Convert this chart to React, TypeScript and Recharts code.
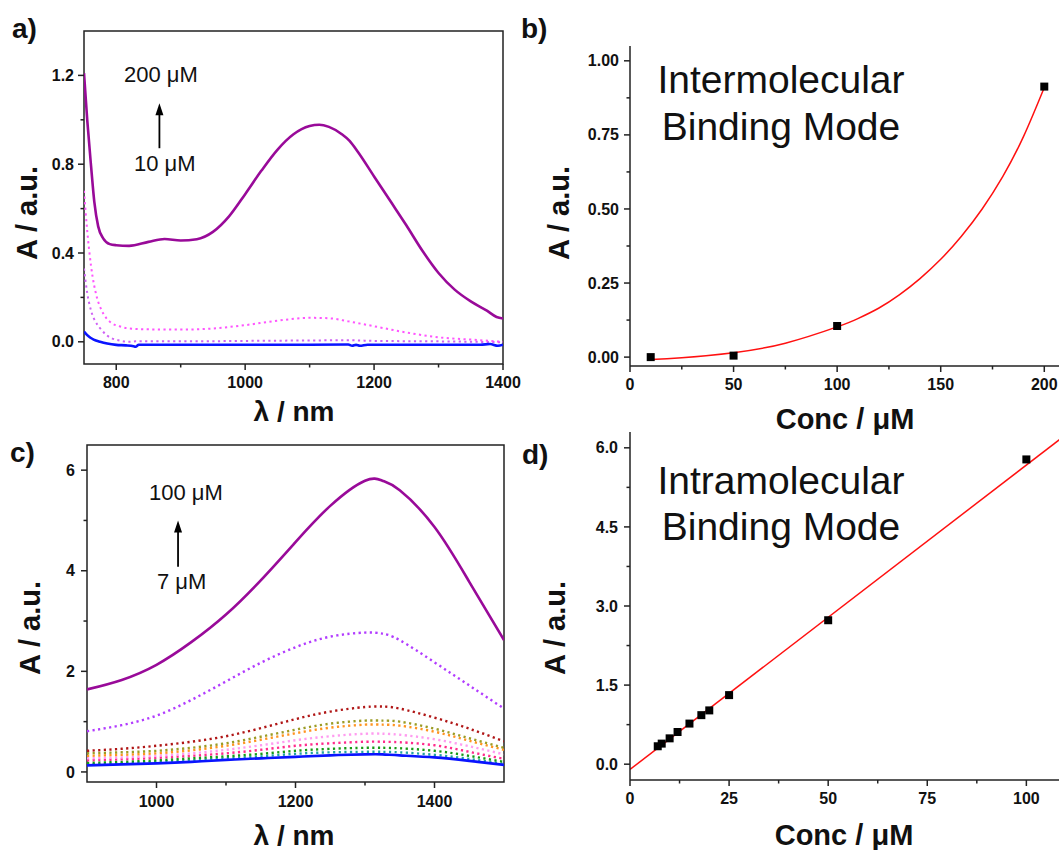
import React from 'react';
import {
  LineChart,
  ComposedChart,
  Line,
  Scatter,
  XAxis,
  YAxis,
  ReferenceArea,
  ReferenceLine,
} from 'recharts';

const FONT = "'Liberation Sans', Arial, Helvetica, sans-serif";
const AX = '#222';
const TXT = '#111';

// ---------- Panel a : spectra, 10 - 200 uM (intermolecular) ----------
const aPurpleX = [750, 755, 761, 766, 772, 780, 790, 800, 820, 850, 875, 900, 925, 950, 975, 1000, 1025, 1050, 1075, 1100, 1115, 1130, 1150, 1162, 1175, 1200, 1225, 1250, 1275, 1300, 1325, 1350, 1375, 1390, 1400];
const aPurpleY = [1.21, 1.0, 0.79, 0.63, 0.52, 0.465, 0.44, 0.435, 0.432, 0.45, 0.463, 0.456, 0.462, 0.495, 0.565, 0.665, 0.77, 0.865, 0.935, 0.972, 0.978, 0.968, 0.935, 0.905, 0.855, 0.745, 0.635, 0.525, 0.41, 0.31, 0.235, 0.182, 0.14, 0.112, 0.105];
const aMagX = [750, 755, 761, 770, 777, 785, 793, 805, 820, 850, 900, 950, 1000, 1050, 1100, 1130, 1160, 1200, 1250, 1300, 1350, 1400];
const aMagY = [0.68, 0.5, 0.34, 0.2, 0.144, 0.105, 0.084, 0.07, 0.06, 0.056, 0.055, 0.06, 0.075, 0.095, 0.108, 0.106, 0.092, 0.07, 0.042, 0.02, 0.01, 0.0];
const aLightX = [750, 755, 761, 770, 777, 785, 793, 805, 820, 830, 900, 1000, 1100, 1160, 1200, 1300, 1400];
const aLightY = [0.33, 0.22, 0.14, 0.08, 0.054, 0.03, 0.016, 0.006, 0.0, 0.002, 0.002, 0.004, 0.006, 0.007, 0.004, 0.002, -0.002];
const aBlueX = [750, 755, 760, 765, 775, 786, 800, 815, 827, 830, 835, 900, 1000, 1100, 1160, 1166, 1172, 1178, 1190, 1300, 1365, 1380, 1392, 1400];
const aBlueY = [0.046, 0.03, 0.018, 0.01, 0.0, -0.008, -0.014, -0.016, -0.02, -0.022, -0.013, -0.013, -0.013, -0.013, -0.012, -0.018, -0.014, -0.018, -0.013, -0.013, -0.013, -0.01, -0.018, -0.013];
const aXMajor = [800, 1000, 1200, 1400];
const aXMinor = [900, 1100, 1300];
const aYMajor = [0, 0.4, 0.8, 1.2];
const aYMinor = [0.2, 0.6, 1.0];

// ---------- Panel b : A vs conc (intermolecular) ----------
const bConc = [10, 50, 100, 200];
const bAbs = [0.0, 0.005, 0.105, 0.913];
const bFitX = [10, 25, 50, 75, 100, 110, 120, 130, 140, 150, 160, 170, 180, 190, 200];
const bFitY = [-0.008, -0.002, 0.015, 0.047, 0.102, 0.13, 0.165, 0.21, 0.265, 0.33, 0.408, 0.5, 0.61, 0.745, 0.91];
const bXMajor = [0, 50, 100, 150, 200];
const bXMinor = [25, 75, 125, 175];
const bYMajor = [0, 0.25, 0.5, 0.75, 1.0];
const bYMinor = [0.125, 0.375, 0.625, 0.875];

// ---------- Panel c : spectra, 7 - 100 uM (intramolecular) ----------
const cWave = [900, 950, 1000, 1050, 1100, 1150, 1200, 1250, 1300, 1325, 1350, 1400, 1450, 1500];
const c100 = [1.64, 1.83, 2.13, 2.58, 3.13, 3.81, 4.57, 5.29, 5.79, 5.79, 5.6, 4.87, 3.78, 2.62];
const c50 = [0.81, 0.93, 1.12, 1.43, 1.8, 2.17, 2.48, 2.69, 2.77, 2.75, 2.62, 2.18, 1.72, 1.26];
const c25 = [0.42, 0.46, 0.52, 0.6, 0.71, 0.87, 1.05, 1.2, 1.29, 1.3, 1.26, 1.08, 0.86, 0.61];
const c20 = [0.37, 0.39, 0.42, 0.48, 0.57, 0.7, 0.84, 0.96, 1.02, 1.02, 1.0, 0.86, 0.67, 0.48];
const c18 = [0.32, 0.34, 0.37, 0.43, 0.52, 0.64, 0.77, 0.88, 0.94, 0.94, 0.92, 0.8, 0.62, 0.44];
const c15 = [0.27, 0.29, 0.32, 0.37, 0.44, 0.53, 0.63, 0.71, 0.76, 0.76, 0.74, 0.65, 0.51, 0.35];
const c12 = [0.23, 0.25, 0.28, 0.32, 0.37, 0.44, 0.52, 0.57, 0.6, 0.6, 0.59, 0.53, 0.4, 0.26];
const c10 = [0.18, 0.2, 0.23, 0.27, 0.31, 0.36, 0.42, 0.46, 0.48, 0.48, 0.47, 0.42, 0.32, 0.2];
const c8 = [0.15, 0.17, 0.2, 0.23, 0.27, 0.31, 0.36, 0.39, 0.4, 0.4, 0.39, 0.34, 0.26, 0.16];
const c7 = [0.13, 0.15, 0.17, 0.2, 0.24, 0.27, 0.3, 0.33, 0.35, 0.35, 0.33, 0.29, 0.22, 0.14];
const cXMajor = [1000, 1200, 1400];
const cXMinor = [1100, 1300];
const cYMajor = [0, 2, 4, 6];
const cYMinor = [1, 3, 5];

// ---------- Panel d : A vs conc (intramolecular) ----------
const dConc = [7, 8, 10, 12, 15, 18, 20, 25, 50, 100];
const dAbs = [0.34, 0.39, 0.49, 0.61, 0.77, 0.93, 1.02, 1.31, 2.73, 5.78];
const dFitX = [0, 110];
const dFitY = [-0.1, 6.25];
const dXMajor = [0, 25, 50, 75, 100];
const dXMinor = [12.5, 37.5, 62.5, 87.5];
const dYMajor = [0, 1.5, 3, 4.5, 6];
const dYMinor = [0.75, 2.25, 3.75, 5.25];

const zip = (xs: number[], ys: number[]) => xs.map((x, i) => ({ x, y: ys[i] }));

const isIn = (arr: number[], v: number) => arr.some((m) => Math.abs(m - v) < 1e-6);

const xTick = (majors: number[], fmt: (v: number) => string, dy = 24) => (p: any) => {
  const v = p.payload.value;
  const major = isIn(majors, v);
  return (
    <g>
      <line x1={p.x} x2={p.x} y1={p.y} y2={p.y + (major ? 6 : 3.5)} stroke={AX} strokeWidth={1.5} />
      {major && (
        <text x={p.x} y={p.y + dy} textAnchor="middle" fontFamily={FONT} fontWeight="bold" fontSize={16} fill={TXT}>
          {fmt(v)}
        </text>
      )}
    </g>
  );
};

const yTick = (majors: number[], fmt: (v: number) => string, gap = 10) => (p: any) => {
  const v = p.payload.value;
  const major = isIn(majors, v);
  return (
    <g>
      <line x1={p.x} x2={p.x - (major ? 6 : 3.5)} y1={p.y} y2={p.y} stroke={AX} strokeWidth={1.5} />
      {major && (
        <text x={p.x - gap} y={p.y + 5.6} textAnchor="end" fontFamily={FONT} fontWeight="bold" fontSize={16} fill={TXT}>
          {fmt(v)}
        </text>
      )}
    </g>
  );
};

const arrowShape = (p: any) => {
  const { x1, y1, x2, y2 } = p;
  return (
    <g>
      <line x1={x1} y1={y1} x2={x2} y2={y2 + 8} stroke="#000" strokeWidth={1.8} />
      <polygon points={`${x2},${y2} ${x2 - 4},${y2 + 12} ${x2 + 4},${y2 + 12}`} fill="#000" />
    </g>
  );
};

const DOT = '2.2 3.4';

type TP = { text: string; x: number; base: number; fs: number; bold?: boolean; center?: boolean };
const T = ({ text, x, base, fs, bold, center }: TP) => (
  <div
    style={{
      position: 'absolute',
      left: x,
      top: base - 0.8465 * fs,
      fontSize: fs,
      lineHeight: `${fs}px`,
      fontWeight: bold ? 'bold' : 'normal',
      fontFamily: FONT,
      color: TXT,
      whiteSpace: 'nowrap',
      transform: center ? 'translateX(-50%)' : undefined,
    }}
  >
    {text}
  </div>
);

const VT = ({ text, cx, cy, fs }: { text: string; cx: number; cy: number; fs: number }) => (
  <div
    style={{
      position: 'absolute',
      left: cx,
      top: cy,
      fontSize: fs,
      lineHeight: `${fs}px`,
      fontWeight: 'bold',
      fontFamily: FONT,
      color: TXT,
      whiteSpace: 'nowrap',
      transform: 'translate(-50%, -50%) rotate(-90deg)',
    }}
  >
    {text}
  </div>
);

const PanelA = () => (
  <LineChart width={530} height={420} margin={{ top: 31, right: 27, bottom: 0, left: 0 }}>
    <XAxis
      type="number"
      dataKey="x"
      domain={[750, 1400]}
      allowDataOverflow
      ticks={[...aXMajor, ...aXMinor]}
      interval={0}
      tickSize={0}
      tickMargin={0}
      tickLine={false}
      axisLine={false}
      height={56}
      tick={xTick(aXMajor, (v) => String(v))}
    />
    <YAxis
      type="number"
      dataKey="y"
      domain={[-0.1, 1.4]}
      allowDataOverflow
      ticks={[...aYMajor, ...aYMinor]}
      interval={0}
      tickSize={0}
      tickMargin={0}
      tickLine={false}
      axisLine={false}
      width={84}
      tick={yTick(aYMajor, (v) => v.toFixed(1))}
    />
    <ReferenceArea x1={750} x2={1400} y1={-0.1} y2={1.4} fill="none" stroke={AX} strokeWidth={1.5} fillOpacity={0} />
    <Line data={zip(aLightX, aLightY)} dataKey="y" type="monotone" stroke="#cf62f5" strokeWidth={2} strokeDasharray={DOT} dot={false} isAnimationActive={false} />
    <Line data={zip(aMagX, aMagY)} dataKey="y" type="monotone" stroke="#ff55ff" strokeWidth={2} strokeDasharray={DOT} dot={false} isAnimationActive={false} />
    <Line data={zip(aBlueX, aBlueY)} dataKey="y" type="monotone" stroke="#0a14ff" strokeWidth={2.6} dot={false} isAnimationActive={false} />
    <Line data={zip(aPurpleX, aPurpleY)} dataKey="y" type="monotone" stroke="#990a99" strokeWidth={2.6} dot={false} isAnimationActive={false} />
    <ReferenceLine segment={[{ x: 867, y: 0.872 }, { x: 867, y: 1.074 }]} shape={arrowShape} />
  </LineChart>
);

const PanelB = () => (
  <ComposedChart width={540} height={420} margin={{ top: 46, right: 5, bottom: 0, left: 0 }}>
    <XAxis
      type="number"
      dataKey="x"
      domain={[0, 210]}
      allowDataOverflow
      ticks={[...bXMajor, ...bXMinor]}
      interval={0}
      tickSize={0}
      tickMargin={0}
      tickLine={false}
      axisLine={{ stroke: AX, strokeWidth: 1.5 }}
      height={54}
      tick={xTick(bXMajor, (v) => String(v))}
    />
    <YAxis
      type="number"
      dataKey="y"
      domain={[-0.03, 1.05]}
      allowDataOverflow
      ticks={[...bYMajor, ...bYMinor]}
      interval={0}
      tickSize={0}
      tickMargin={0}
      tickLine={false}
      axisLine={{ stroke: AX, strokeWidth: 1.5 }}
      width={100}
      tick={yTick(bYMajor, (v) => v.toFixed(2), 11)}
    />
    <Line data={zip(bFitX, bFitY)} dataKey="y" type="natural" stroke="#ff1010" strokeWidth={1.5} dot={false} isAnimationActive={false} />
    <Scatter data={zip(bConc, bAbs)} dataKey="y" shape="square" fill="#000" isAnimationActive={false} />
  </ComposedChart>
);

const cData = cWave.map((x, i) => ({
  x,
  s100: c100[i],
  s50: c50[i],
  s25: c25[i],
  s20: c20[i],
  s18: c18[i],
  s15: c15[i],
  s12: c12[i],
  s10: c10[i],
  s8: c8[i],
  s7: c7[i],
}));

const cSeries: { key: string; color: string; solid?: boolean }[] = [
  { key: 's8', color: '#22a3a3' },
  { key: 's10', color: '#169a16' },
  { key: 's12', color: '#ff2b8c' },
  { key: 's15', color: '#ff9cf0' },
  { key: 's18', color: '#ff9420' },
  { key: 's20', color: '#9c9c25' },
  { key: 's25', color: '#b01616' },
  { key: 's50', color: '#b23cff' },
  { key: 's7', color: '#0a14ff', solid: true },
  { key: 's100', color: '#990a99', solid: true },
];

const PanelC = () => (
  <LineChart width={530} height={430} data={cData} margin={{ top: 25, right: 26, bottom: 0, left: 0 }}>
    <XAxis
      type="number"
      dataKey="x"
      domain={[900, 1500]}
      allowDataOverflow
      ticks={[...cXMajor, ...cXMinor]}
      interval={0}
      tickSize={0}
      tickMargin={0}
      tickLine={false}
      axisLine={false}
      height={68}
      tick={xTick(cXMajor, (v) => String(v), 25)}
    />
    <YAxis
      type="number"
      domain={[-0.2, 6.5]}
      allowDataOverflow
      ticks={[...cYMajor, ...cYMinor]}
      interval={0}
      tickSize={0}
      tickMargin={0}
      tickLine={false}
      axisLine={false}
      width={87}
      tick={yTick(cYMajor, (v) => String(v), 12)}
    />
    <ReferenceArea x1={900} x2={1500} y1={-0.2} y2={6.5} fill="none" stroke={AX} strokeWidth={1.5} fillOpacity={0} />
    {cSeries.map((s) => (
      <Line
        key={s.key}
        dataKey={s.key}
        type="natural"
        stroke={s.color}
        strokeWidth={s.solid ? 2.6 : 2.4}
        strokeDasharray={s.solid ? undefined : DOT}
        dot={false}
        isAnimationActive={false}
      />
    ))}
    <ReferenceLine segment={[{ x: 1031, y: 4.08 }, { x: 1031, y: 5.0 }]} shape={arrowShape} />
  </LineChart>
);

const PanelD = () => (
  <ComposedChart width={540} height={430} margin={{ top: 12, right: 4, bottom: 0, left: 0 }}>
    <XAxis
      type="number"
      dataKey="x"
      domain={[0, 110]}
      allowDataOverflow
      ticks={[...dXMajor, ...dXMinor]}
      interval={0}
      tickSize={0}
      tickMargin={0}
      tickLine={false}
      axisLine={{ stroke: AX, strokeWidth: 1.5 }}
      height={70}
      tick={xTick(dXMajor, (v) => String(v))}
    />
    <YAxis
      type="number"
      dataKey="y"
      domain={[-0.3, 6.3]}
      allowDataOverflow
      ticks={[...dYMajor, ...dYMinor]}
      interval={0}
      tickSize={0}
      tickMargin={0}
      tickLine={false}
      axisLine={{ stroke: AX, strokeWidth: 1.5 }}
      width={100}
      tick={yTick(dYMajor, (v) => v.toFixed(1), 12)}
    />
    <Line data={zip(dFitX, dFitY)} dataKey="y" type="linear" stroke="#ff1010" strokeWidth={1.5} dot={false} isAnimationActive={false} />
    <Scatter data={zip(dConc, dAbs)} dataKey="y" shape="square" fill="#000" isAnimationActive={false} />
  </ComposedChart>
);

export default function App() {
  return (
    <div
      style={{
        position: 'absolute',
        left: 0,
        top: 0,
        width: 1059,
        height: 850,
        overflow: 'hidden',
        background: '#fff',
        fontFamily: FONT,
      }}
    >
      <div style={{ position: 'absolute', left: 0, top: 0 }}>
        <PanelA />
      </div>
      <div style={{ position: 'absolute', left: 530, top: 0 }}>
        <PanelB />
      </div>
      <div style={{ position: 'absolute', left: 0, top: 420 }}>
        <PanelC />
      </div>
      <div style={{ position: 'absolute', left: 530, top: 420 }}>
        <PanelD />
      </div>

      {/* panel letters */}
      <T text="a)" x={12} base={39} fs={28} bold />
      <T text="b)" x={521} base={39} fs={28} bold />
      <T text="c)" x={10} base={463} fs={28} bold />
      <T text="d)" x={522} base={465} fs={28} bold />

      {/* axis titles */}
      <VT text="A / a.u." cx={27} cy={213} fs={29} />
      <VT text="A / a.u." cx={559} cy={213} fs={29} />
      <VT text="A / a.u." cx={30} cy={628} fs={29} />
      <VT text="A / a.u." cx={555} cy={628} fs={29} />
      <T text="λ / nm" x={294} base={422} fs={28} bold center />
      <T text="λ / nm" x={294} base={846} fs={28} bold center />
      <T text="Conc / μM" x={845} base={430} fs={29} bold center />
      <T text="Conc / μM" x={844} base={846} fs={29} bold center />

      {/* annotations */}
      <T text="200 μM" x={124} base={83} fs={22} />
      <T text="10 μM" x={134} base={172} fs={22} />
      <T text="100 μM" x={149} base={501} fs={22} />
      <T text="7 μM" x={157} base={590} fs={22} />
      <T text="Intermolecular" x={781} base={93} fs={39} center />
      <T text="Binding Mode" x={781} base={140} fs={39} center />
      <T text="Intramolecular" x={781} base={494} fs={39} center />
      <T text="Binding Mode" x={781} base={540} fs={39} center />
    </div>
  );
}
